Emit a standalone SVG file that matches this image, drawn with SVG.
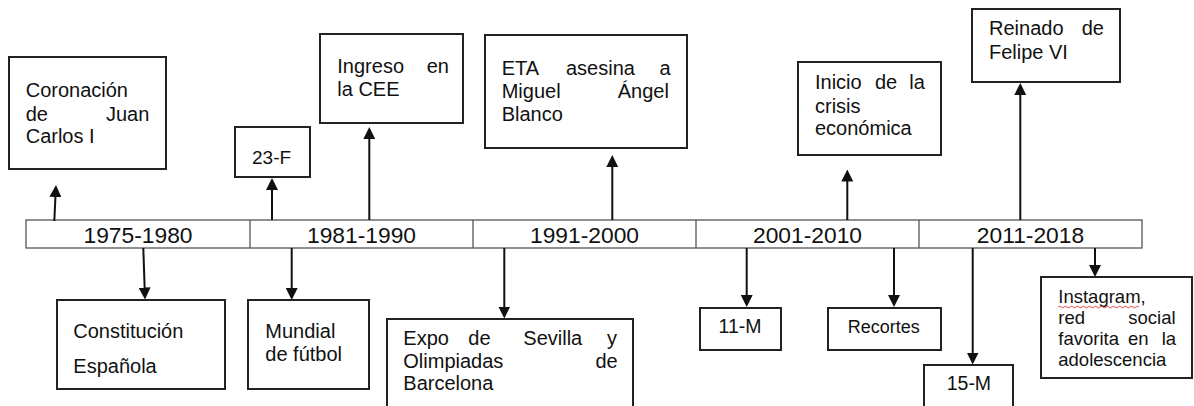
<svg xmlns="http://www.w3.org/2000/svg" width="1194" height="406" viewBox="0 0 1194 406">
<style>
text{font-family:"Liberation Sans",Arial,sans-serif;fill:#111}
.t{font-size:20px}
.s{font-size:18.5px}
.bar{font-size:22.8px;text-anchor:middle}
.box{fill:#fff;stroke:#222;stroke-width:2}
.cell{fill:#fff;stroke:#555;stroke-width:1.3}
.c{stroke:#111;stroke-width:2;fill:none}
</style>
<defs>
<marker id="ah" markerUnits="userSpaceOnUse" markerWidth="12" markerHeight="12" refX="8" refY="6" orient="auto">
<path d="M0,0 L12,6 L0,12 z" fill="#111"/>
</marker>
</defs>
<rect width="1194" height="406" fill="#fff"/>

<g id="timeline">
<rect class="cell" x="26" y="220" width="1116" height="28"/>
<line class="cell" x1="250" y1="220" x2="250" y2="248"/>
<line class="cell" x1="473" y1="220" x2="473" y2="248"/>
<line class="cell" x1="696" y1="220" x2="696" y2="248"/>
<line class="cell" x1="919" y1="220" x2="919" y2="248"/>
<text class="bar" x="138" y="243">1975-1980</text>
<text class="bar" x="361.5" y="243">1981-1990</text>
<text class="bar" x="584.5" y="243">1991-2000</text>
<text class="bar" x="807.5" y="243">2001-2010</text>
<text class="bar" x="1030.5" y="243">2011-2018</text>
</g>

<g id="connectors">
<line class="c" x1="54.3" y1="221" x2="55.8" y2="189" marker-end="url(#ah)"/>
<line class="c" x1="272" y1="220" x2="272" y2="182" marker-end="url(#ah)"/>
<line class="c" x1="369.3" y1="220" x2="369.3" y2="131" marker-end="url(#ah)"/>
<line class="c" x1="612.3" y1="220" x2="612.3" y2="159" marker-end="url(#ah)"/>
<line class="c" x1="847.3" y1="220" x2="847.3" y2="173.5" marker-end="url(#ah)"/>
<line class="c" x1="1020.3" y1="220" x2="1020.3" y2="87" marker-end="url(#ah)"/>
<line class="c" x1="143.3" y1="248" x2="144.9" y2="295.5" marker-end="url(#ah)"/>
<line class="c" x1="291.7" y1="248" x2="291.7" y2="296" marker-end="url(#ah)"/>
<line class="c" x1="504.3" y1="248" x2="504.3" y2="314.5" marker-end="url(#ah)"/>
<line class="c" x1="746.7" y1="248" x2="746.7" y2="303" marker-end="url(#ah)"/>
<line class="c" x1="894" y1="248" x2="894" y2="303" marker-end="url(#ah)"/>
<line class="c" x1="972.7" y1="248" x2="972.7" y2="360.5" marker-end="url(#ah)"/>
<line class="c" x1="1095" y1="248" x2="1095" y2="273" marker-end="url(#ah)"/>
</g>

<g id="coronacion">
<rect class="box" x="9" y="57" width="157" height="112"/>
<text class="t" x="25.7" y="96.7">Coronación</text>
<text class="t" y="120.7"><tspan x="25.7">de</tspan><tspan x="106">Juan</tspan></text>
<text class="t" x="25.7" y="142.7">Carlos I</text>
</g>

<g id="f23">
<rect class="box" x="235" y="127" width="75" height="50"/>
<text x="252" y="164" style="font-size:19px">23-F</text>
</g>

<g id="ingreso">
<rect class="box" x="320" y="34" width="143" height="89"/>
<text class="t" y="73.3"><tspan x="337.3">Ingreso</tspan><tspan x="426.7">en</tspan></text>
<text class="t" x="337.3" y="95.7">la CEE</text>
</g>

<g id="eta">
<rect class="box" x="485" y="35" width="202" height="113"/>
<text class="t" y="75"><tspan x="501.7">ETA</tspan><tspan x="566">asesina</tspan><tspan x="659.5">a</tspan></text>
<text class="t" y="98.3"><tspan x="501.7">Miguel</tspan><tspan x="617.7">Ángel</tspan></text>
<text class="t" x="501.7" y="120.7">Blanco</text>
</g>

<g id="crisis">
<rect class="box" x="798" y="62" width="143" height="93"/>
<text class="t" y="89"><tspan x="815">Inicio</tspan><tspan x="875">de</tspan><tspan x="909.3">la</tspan></text>
<text class="t" x="815" y="112.7">crisis</text>
<text class="t" x="815" y="135">económica</text>
</g>

<g id="felipe">
<rect class="box" x="972" y="9" width="148" height="73"/>
<text class="t" y="35"><tspan x="989">Reinado</tspan><tspan x="1081.7">de</tspan></text>
<text class="t" x="989" y="59">Felipe VI</text>
</g>

<g id="constitucion">
<rect class="box" x="57" y="300" width="168" height="89"/>
<text class="t" x="73.3" y="338.3">Constitución</text>
<text class="t" x="73.3" y="373.3">Española</text>
</g>

<g id="mundial">
<rect class="box" x="248" y="300" width="121" height="89"/>
<text class="t" x="265.3" y="338.3">Mundial</text>
<text class="t" x="265.3" y="360.7">de fútbol</text>
</g>

<g id="expo">
<rect class="box" x="387" y="319" width="246" height="100"/>
<text class="t" y="345"><tspan x="403.3">Expo</tspan><tspan x="468.3">de</tspan><tspan x="523.3">Sevilla</tspan><tspan x="607">y</tspan></text>
<text class="t" y="368.3"><tspan x="403.3">Olimpiadas</tspan><tspan x="595.5">de</tspan></text>
<text class="t" x="403.3" y="390">Barcelona</text>
</g>

<g id="m11">
<rect class="box" x="700" y="308" width="81" height="42"/>
<text x="740" y="333.3" style="font-size:19.5px;text-anchor:middle">11-M</text>
</g>

<g id="recortes">
<rect class="box" x="828" y="308" width="113" height="42"/>
<text x="847.7" y="333.3" style="font-size:18px">Recortes</text>
</g>

<g id="m15">
<rect class="box" x="924" y="365" width="89" height="50"/>
<text x="946.7" y="390" style="font-size:19.5px">15-M</text>
</g>

<g id="instagram">
<rect class="box" x="1041" y="277" width="151" height="101"/>
<text class="s" x="1058.3" y="303.3">Instagram,</text>
<path d="M1058,307 q1.5,-1.6 3,0 t3,0 t3,0 t3,0 t3,0 t3,0 t3,0 t3,0 t3,0 t3,0 t3,0 t3,0 t3,0 t3,0 t3,0 t3,0 t3,0 t3,0 t3,0 t3,0 t3,0 t3,0 t3,0 t3,0 t3,0 t3,0 t3,0" fill="none" stroke="#d33" stroke-width="0.9"/>
<text class="s" y="324"><tspan x="1058.3">red</tspan><tspan x="1128.3">social</tspan></text>
<text class="s" y="345"><tspan x="1058.3">favorita</tspan><tspan x="1128">en</tspan><tspan x="1161.7">la</tspan></text>
<text class="s" x="1058.3" y="366">adolescencia</text>
</g>
</svg>
